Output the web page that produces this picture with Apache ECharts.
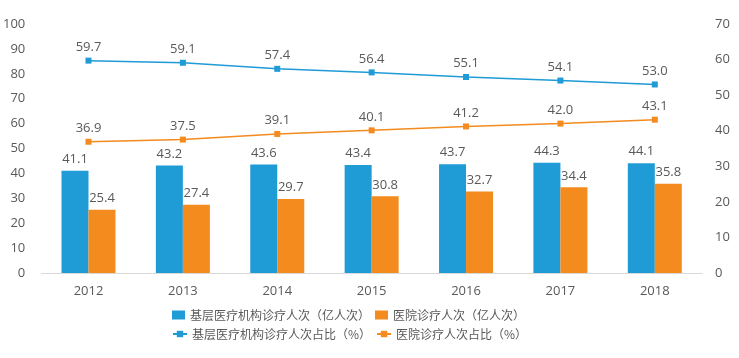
<!DOCTYPE html>
<html><head><meta charset="utf-8">
<script src="https://cdn.jsdelivr.net/npm/echarts@6/dist/echarts.min.js"></script>
<style>html,body{margin:0;padding:0;background:#fff}#c{width:739px;height:358px}</style>
</head><body><div id="c"></div>
<script>
var years = ['2012','2013','2014','2015','2016','2017','2018'];
var primaryVisits = [41.1, 43.2, 43.6, 43.4, 43.7, 44.3, 44.1];
var hospitalVisits = [25.4, 27.4, 29.7, 30.8, 32.7, 34.4, 35.8];
var primaryShare = [59.7, 59.1, 57.4, 56.4, 55.1, 54.1, 53.0];
var hospitalShare = [36.9, 37.5, 39.1, 40.1, 41.2, 42.0, 43.1];
var names = ['基层医疗机构诊疗人次（亿人次）','医院诊疗人次（亿人次）','基层医疗机构诊疗人次占比（%）','医院诊疗人次占比（%）'];
var blue = '#1f9bd6', orange = '#f38b1f', txt = '#595959';
var font = '"Open Sans","Noto Sans CJK SC",sans-serif';
var chart = echarts.init(document.getElementById('c'));
var lbl = {show:true, position:'top', color:txt, fontSize:13, fontFamily:font, distance:5};
var legText = {color:txt, fontSize:12, fontFamily:'"Noto Sans CJK SC",sans-serif'};
chart.setOption({
  animation:false,
  textStyle:{fontFamily:font},
  grid:{left:37, right:37, top:24, bottom:85},
  legend:[
    {left:167, top:304, itemWidth:13, itemHeight:9, itemGap:5, data:[
      {name:names[0], icon:'rect'},{name:names[1], icon:'rect'}], textStyle:legText},
    {left:167, top:323, itemWidth:14, itemHeight:8, itemGap:5, data:[names[2],names[3]], textStyle:legText}
  ],
  xAxis:{type:'category', data:years, axisTick:{show:false},
    axisLine:{lineStyle:{color:'#d9d9d9'}},
    axisLabel:{color:txt, fontSize:13, margin:12}},
  yAxis:[
    {type:'value', min:0, max:100, interval:10, splitLine:{show:false},
     axisLabel:{color:txt, fontSize:13, margin:16}},
    {type:'value', min:0, max:70, interval:10, splitLine:{show:false},
     axisLabel:{color:txt, fontSize:13, margin:13}}
  ],
  series:[
    {name:names[0], type:'bar', data:primaryVisits, barWidth:27, barGap:'0%',
     itemStyle:{color:blue}, label:lbl},
    {name:names[1], type:'bar', data:hospitalVisits, barWidth:27, barGap:'0%',
     itemStyle:{color:orange}, label:lbl},
    {name:names[2], type:'line', yAxisIndex:1, data:primaryShare, symbol:'rect', symbolSize:6,
     lineStyle:{color:blue, width:1.5}, itemStyle:{color:blue},
     label:Object.assign({}, lbl, {distance:4, formatter:function(p){return p.value.toFixed(1);}})},
    {name:names[3], type:'line', yAxisIndex:1, data:hospitalShare, symbol:'rect', symbolSize:6,
     lineStyle:{color:orange, width:1.5}, itemStyle:{color:orange},
     label:Object.assign({}, lbl, {distance:4, formatter:function(p){return p.value.toFixed(1);}})}
  ]
});
</script></body></html>
